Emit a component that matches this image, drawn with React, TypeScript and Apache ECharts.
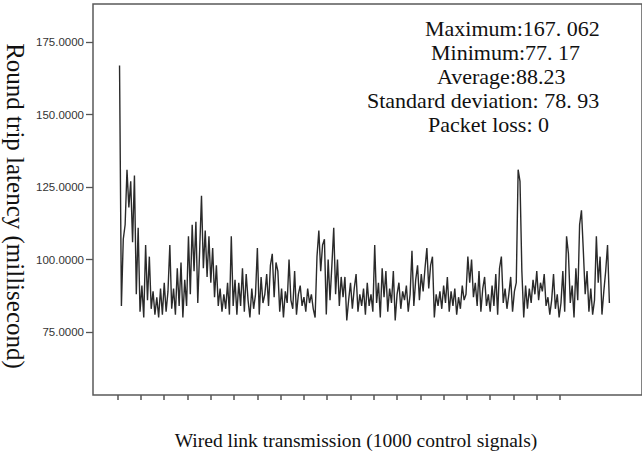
import React, { useEffect, useRef } from "react";
import * as echarts from "echarts";

// Round trip latency readings (ms), one every 4 control signals
const latency: number[] = [
  167, 84, 107, 112, 131, 118, 127, 106, 129, 88, 111, 82, 91, 80, 105, 86, 101, 83, 89, 81,
  87, 80, 90, 81, 92, 82, 89, 105, 83, 90, 81, 97, 84, 99, 80, 93, 84, 108, 88, 112,
  96, 113, 85, 103, 122, 97, 110, 94, 108, 92, 104, 87, 98, 84, 90, 82, 88, 83, 92, 81,
  108, 84, 93, 81, 92, 84, 97, 82, 95, 86, 80, 90, 83, 88, 104, 81, 94, 85, 88, 95,
  84, 98, 102, 87, 99, 96, 82, 90, 80, 89, 85, 100, 86, 83, 96, 81, 88, 91, 84, 87,
  82, 90, 85, 88, 83, 80, 101, 110, 96, 105, 107, 81, 100, 86, 98, 111, 88, 100, 84, 94,
  87, 94, 79, 86, 92, 83, 90, 95, 82, 88, 84, 90, 81, 92, 84, 88, 82, 105, 85, 92,
  80, 97, 87, 96, 82, 90, 85, 96, 79, 88, 92, 83, 89, 86, 91, 82, 88, 103, 84, 93,
  98, 86, 95, 89, 97, 104, 90, 98, 101, 80, 88, 84, 89, 83, 91, 85, 94, 82, 89, 84,
  90, 81, 87, 83, 91, 86, 88, 101, 92, 100, 87, 92, 84, 96, 82, 90, 94, 84, 88, 82,
  91, 84, 95, 81, 97, 101, 85, 90, 83, 88, 94, 82, 89, 92, 131, 127, 96, 80, 91, 83,
  90, 85, 93, 88, 96, 86, 92, 89, 95, 84, 87, 81, 86, 95, 83, 88, 80, 85, 96, 82,
  108, 102, 85, 91, 80, 97, 86, 112, 117, 103, 88, 96, 82, 90, 81, 86, 108, 92, 101, 81,
  89, 96, 105, 85,
];
const SAMPLE_STEP = 4; // signals between two plotted readings

const yTicks: number[] = [75, 100, 125, 150, 175];
const xTicks: number[] = [0, 50, 100, 150, 200, 250, 300, 350, 400, 450, 500, 550, 600, 650, 700, 750, 800, 850, 900, 950];

const statLines: string[] = [
  "Maximum:167. 062",
  "Minimum:77. 17",
  "Average:88.23",
  "Standard deviation: 78. 93",
  "Packet loss: 0",
];
const statLeft: number[] = [425, 431, 437, 367, 428];

const yTitle = "Round trip latency (millisecond)";
const xTitle = "Wired link transmission (1000 control signals)";

export default function App() {
  const ref = useRef<HTMLDivElement>(null);
  useEffect(() => {
    if (!ref.current) return;
    const chart = echarts.init(ref.current, null, { renderer: "svg" });
    const serif = "Liberation Serif";
    const option: any = {
      animation: false,
      backgroundColor: "#fff",
      grid: {
        left: 93,
        top: 4,
        width: 560,
        height: 391,
        show: true,
        borderColor: "#5a5a5a",
        borderWidth: 1.5,
        backgroundColor: "transparent",
      },
      xAxis: {
        type: "value",
        min: -53,
        max: 1126,
        axisLine: { show: false, onZero: false },
        axisLabel: { show: false },
        splitLine: { show: false },
        axisTick: {
          show: true,
          length: 5,
          customValues: xTicks,
          lineStyle: { color: "#555", width: 1.5 },
        },
      },
      yAxis: {
        type: "value",
        min: 53.25,
        max: 188.2,
        axisLine: { show: false, onZero: false },
        splitLine: { show: false },
        axisTick: {
          show: true,
          length: 7,
          customValues: yTicks,
          lineStyle: { color: "#555", width: 1.3 },
        },
        axisLabel: {
          customValues: yTicks,
          formatter: (v: number) => v.toFixed(4),
          fontFamily: "Liberation Sans",
          fontSize: 11.5,
          color: "#333",
          margin: 9,
        },
      },
      series: [
        {
          type: "line",
          data: latency.map((v, i) => [SAMPLE_STEP * (i + 1), v]),
          showSymbol: false,
          symbol: "none",
          lineStyle: { color: "#2a2a2a", width: 1.4 },
        },
      ],
      graphic: [
        ...statLines.map((t, i) => ({
          type: "text",
          x: statLeft[i],
          y: 28 + i * 24,
          style: {
            text: t,
            fontFamily: serif,
            fontSize: 22,
            fill: "#111",
            textAlign: "left",
            textVerticalAlign: "middle",
          },
        })),
        {
          type: "text",
          x: 356,
          y: 440,
          style: {
            text: xTitle,
            fontFamily: serif,
            fontSize: 19.5,
            fill: "#111",
            textAlign: "center",
            textVerticalAlign: "middle",
          },
        },
        {
          type: "text",
          x: 15,
          y: 206,
          rotation: -Math.PI / 2,
          style: {
            text: yTitle,
            fontFamily: serif,
            fontSize: 25,
            fill: "#111",
            textAlign: "center",
            textVerticalAlign: "middle",
          },
        },
      ],
    };
    chart.setOption(option);
    return () => chart.dispose();
  }, []);
  return (
    <div
      ref={ref}
      style={{ position: "fixed", left: 0, top: 0, width: 642, height: 466 }}
    />
  );
}
